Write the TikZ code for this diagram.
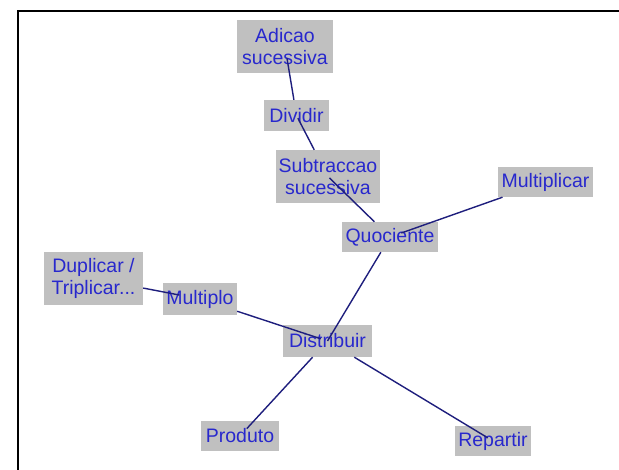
\documentclass[tikz,border=0pt]{standalone}
\usepackage{fontspec}
\setmainfont{Liberation Sans}
\definecolor{boxgray}{RGB}{192,192,192}
\definecolor{labelblue}{RGB}{40,40,205}
\definecolor{linkblue}{RGB}{30,30,125}
\tikzset{
  concept/.style={fill=boxgray, text=labelblue, align=center, inner sep=1pt,
    font=\fontsize{19.5}{22}\selectfont},
  link/.style={draw=linkblue, line width=1.4pt},
  frameline/.style={draw=black, line width=2.3pt}
}
\begin{document}
\begin{tikzpicture}[x=1pt, y=-1pt]
  \useasboundingbox (0,0) rectangle (619,470);
  \fill[white] (0,0) rectangle (619,470);
  % frame on the left and top edges
  \draw[frameline] (17.8,470) -- (17.8,11.2) -- (619,11.2);

  % concepts
  \node[concept, minimum width=96pt, minimum height=53pt] (adicao) at (285,46.5) {Adicao\\sucessiva};
  \node[concept, minimum width=65pt, minimum height=31pt] (dividir) at (296.5,115.5) {Dividir};
  \node[concept, minimum width=104pt, minimum height=53pt] (subtr) at (328,176.5) {Subtraccao\\sucessiva};
  \node[concept, minimum width=95pt, minimum height=30pt] (multiplicar) at (545.5,182) {Multiplicar};
  \node[concept, minimum width=96pt, minimum height=30pt] (quoc) at (390,237) {Quociente};
  \node[concept, minimum width=99pt, minimum height=53pt] (duplicar) at (93.5,278.5) {Duplicar /\\Triplicar...};
  \node[concept, minimum width=74pt, minimum height=32pt] (multiplo) at (200,299) {Multiplo};
  \node[concept, minimum width=89pt, minimum height=32pt] (distribuir) at (327.5,341) {Distribuir};
  \node[concept, minimum width=78pt, minimum height=30pt] (produto) at (240,436) {Produto};
  \node[concept, minimum width=76pt, minimum height=30pt] (repartir) at (493,441) {Repartir};

  % links: each runs from inside its source box to the border of its target box
  \draw[link, shorten <=12pt] (adicao.center) -- (dividir);
  \draw[link, shorten <=3pt] (dividir.center) -- (subtr);
  \draw[link, shorten <=2pt] (subtr.center) -- (quoc);
  \draw[link, shorten <=12pt] (quoc.center) -- (multiplicar);
  \draw[link] (distribuir.center) -- (quoc);
  \draw[link, shorten <=7pt] (distribuir.center) -- (multiplo);
  \draw[link, shorten <=21pt] (multiplo.center) -- (duplicar);
  \draw[link, shorten <=10pt] (produto.center) -- (distribuir);
  \draw[link, shorten <=6pt] (repartir.center) -- (distribuir);
\end{tikzpicture}
\end{document}
